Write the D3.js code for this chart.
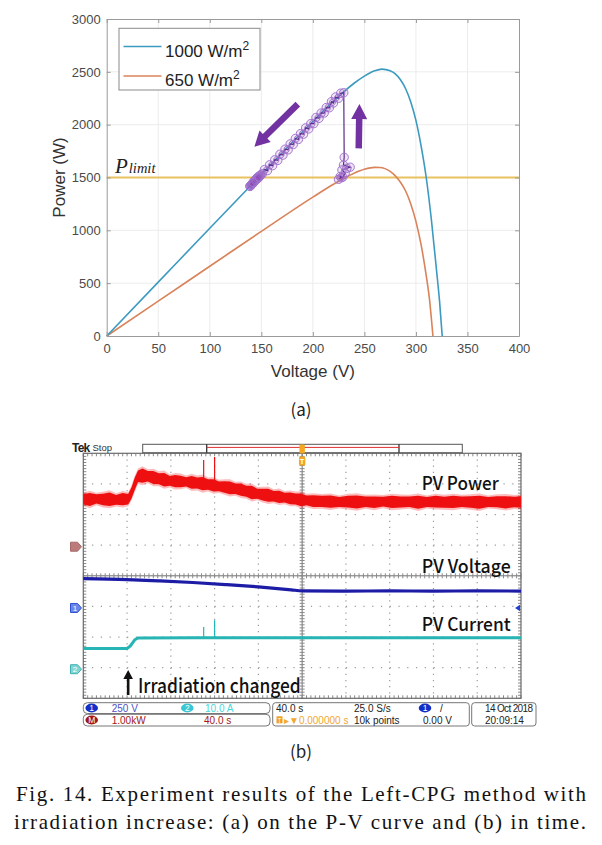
<!DOCTYPE html>
<html><head><meta charset="utf-8">
<script src="https://cdn.jsdelivr.net/npm/d3@7"></script>
<style>body{margin:0;background:#fff} svg{display:block}</style>
</head><body><svg id="c" width="602" height="845"></svg>
<script>
// ===== (a) P-V curves =====
const xTicks = [0,50,100,150,200,250,300,350,400];
const yTicks = [0,500,1000,1500,2000,2500,3000];
const pvVolt1000 = [0,50,100,150,200,220,240,250,260,267,275,280,285,290,295,300,305,310,315,320,323,325.5];
const pvPow1000  = [0,510,1020,1528,2030,2222,2392,2460,2510,2526,2510,2480,2425,2340,2215,2040,1800,1500,1100,620,320,0];
const pvVolt650  = [0,50,100,150,200,220,240,250,260,265,270,275,280,285,290,295,300,305,310,313,316.5];
const pvPow650   = [0,330,660,990,1314,1436,1541,1578,1596,1595,1584,1558,1515,1455,1372,1250,1085,864,571,360,0];
const pLimit = 1500;
const legendLabels = ["1000 W/m","650 W/m"];
const trajVolt = [224.9,227.5,226.5,229,231.4,228.2,233,236.2,229.7,230.4,230,227,225,222,220,218,216,213,211,208,206,203,201,198,196,193,191,188,186,183,181,178,176,173,171,168,166,163,161,158,156,153,151,149,147,150,145,148,143,146,141,144,140,147,142,145,139,143,146,141,144,148,142,146,140,144,149,143,147,141,145,139,146,142,148];
const trajPow  = [1483,1497,1510,1503,1540,1571,1587,1597,1618,1691,2302,2298,2250,2262,2205,2218,2160,2162,2110,2110,2060,2068,2010,2010,1960,1970,1910,1915,1860,1870,1812,1818,1762,1768,1712,1720,1662,1668,1612,1620,1565,1575,1535,1522,1493,1530,1477,1510,1455,1495,1440,1477,1425,1507,1453,1485,1415,1465,1500,1435,1473,1512,1448,1490,1428,1470,1518,1458,1498,1438,1480,1418,1492,1452,1506];
const arrowLeft = [[185.4,2195],[143.3,1791]];
const arrowUp   = [[244.5,1776],[245.2,2195]];

// ===== (b) oscilloscope =====
const timePerDiv = 40, voltPerDiv = 250, currPerDiv = 10, powPerDiv = 1.0;
const powerTime = [-200,-194,-188,-182,-176,-170,-164,-159,-156,-153,-150,-146,-141,-136,-131,-126,-121,-116,-111,-106,-101,-96,-91,-86,-81,-76,-71,-66,-61,-56,-51,-46,-41,-36,-31,-26,-21,-16,-11,-6,-1,4,10,18,26,34,42,50,58,66,74,82,90,98,106,114,122,130,138,146,154,162,170,178,186,194,200];
const powerMid  = [1.55,1.54,1.56,1.54,1.55,1.53,1.55,1.55,1.75,2.05,2.30,2.32,2.30,2.26,2.22,2.19,2.15,2.14,2.13,2.12,2.10,2.08,2.06,2.03,2.00,1.97,1.95,1.92,1.89,1.86,1.81,1.77,1.73,1.70,1.68,1.65,1.63,1.60,1.58,1.56,1.53,1.51,1.49,1.48,1.47,1.46,1.47,1.46,1.47,1.45,1.47,1.46,1.46,1.47,1.45,1.46,1.47,1.45,1.46,1.47,1.46,1.45,1.46,1.47,1.45,1.46,1.46];
const powerSpread = [0.17,0.21,0.15,0.19,0.22,0.16,0.20,0.17,0.18,0.20,0.19,0.23,0.17,0.21,0.18,0.22,0.16,0.20,0.19,0.15,0.21,0.18,0.22,0.17,0.20,0.16,0.19,0.21,0.17,0.20,0.18,0.22,0.16,0.19,0.21,0.17,0.20,0.16,0.19,0.18,0.21,0.16,0.19,0.18,0.20,0.16,0.19,0.21,0.17,0.19,0.16,0.20,0.18,0.17,0.21,0.16,0.19,0.18,0.20,0.17,0.19,0.21,0.16,0.18,0.20,0.17,0.19];
const voltTime = [-200,-160,-130,-100,-70,-40,-10,0,40,80,120,160,200];
const voltVal  = [240,232,221,208,191,172,148,139,138,139,138,139,138];
const currTime = [-200,-160,-157,-153,-150,-100,0,100,200];
const currVal  = [6.75,6.75,7.6,9.6,10.2,10.3,10.3,10.3,10.3];
const spikeTime = [-90,-80];
const spikePow  = [2.83,2.93];
const spikeCurr = [13.8,16.0];
const irradChangeTime = -159;
const chGround = {power:0.95, volt:-1.05, curr:-3.05}; // in divisions

const svg = d3.select("#c");
const SANS = "'Liberation Sans', Arial, sans-serif";

// ---------- (a) ----------
const X0=106.7, X1=519, Y0=336, Y1=19;
const x = d3.scaleLinear().domain([0,400]).range([X0,X1]);
const y = d3.scaleLinear().domain([0,3000]).range([Y0,Y1]);
const gA = svg.append("g");
gA.append("rect").attr("x",X0).attr("y",Y1).attr("width",X1-X0).attr("height",Y0-Y1).attr("fill","#fff");
gA.selectAll(".gx").data(xTicks.slice(1,-1)).join("line")
  .attr("x1",d=>x(d)).attr("x2",d=>x(d)).attr("y1",Y0).attr("y2",Y1).attr("stroke","#ececec");
gA.selectAll(".gy").data(yTicks.slice(1,-1)).join("line")
  .attr("y1",d=>y(d)).attr("y2",d=>y(d)).attr("x1",X0).attr("x2",X1).attr("stroke","#ececec");
gA.append("line").attr("x1",X0).attr("x2",X1).attr("y1",y(pLimit)).attr("y2",y(pLimit))
  .attr("stroke","#e8c25e").attr("stroke-width",1.8);

const line = d3.line().x(d=>x(d[0])).y(d=>y(d[1])).curve(d3.curveMonotoneX);
gA.append("path").datum(pvVolt650.map((v,i)=>[v,pvPow650[i]])).attr("d",line)
  .attr("fill","none").attr("stroke","#d9835a").attr("stroke-width",1.6);
gA.append("path").datum(pvVolt1000.map((v,i)=>[v,pvPow1000[i]])).attr("d",line)
  .attr("fill","none").attr("stroke","#3c9ac0").attr("stroke-width",1.6);

// trajectory
const traj = trajVolt.map((v,i)=>[v,trajPow[i]]);
gA.append("path").datum(traj).attr("d",d3.line().x(d=>x(d[0])).y(d=>y(d[1])))
  .attr("fill","none").attr("stroke","#5a2a84").attr("stroke-width",1.2);
gA.selectAll(".tp").data(traj).join("circle").attr("cx",d=>x(d[0])).attr("cy",d=>y(d[1]))
  .attr("r",4.2).attr("fill","rgba(120,50,170,0.12)").attr("stroke","#a477cf").attr("stroke-width",1);

function blockArrow(p0,p1,sw,hw,hl){
  const dx=p1[0]-p0[0], dy=p1[1]-p0[1], L=Math.hypot(dx,dy), ux=dx/L, uy=dy/L, nx=-uy, ny=ux;
  const b=[p1[0]-ux*hl, p1[1]-uy*hl];
  const P=[[p0[0]+nx*sw/2,p0[1]+ny*sw/2],[b[0]+nx*sw/2,b[1]+ny*sw/2],[b[0]+nx*hw/2,b[1]+ny*hw/2],p1,
           [b[0]-nx*hw/2,b[1]-ny*hw/2],[b[0]-nx*sw/2,b[1]-ny*sw/2],[p0[0]-nx*sw/2,p0[1]-ny*sw/2]];
  return "M"+P.map(p=>p.join(",")).join("L")+"Z";
}
[arrowLeft, arrowUp].forEach(a=>{
  const p0=[x(a[0][0]),y(a[0][1])], p1=[x(a[1][0]),y(a[1][1])];
  gA.append("path").attr("d",blockArrow(p0,p1,6.5,16,15)).attr("fill","#7232a2");
});

// axes
const axStyle = g=>{ g.selectAll(".domain").attr("stroke","#9a9a9a");
  g.selectAll(".tick line").attr("stroke","#9a9a9a");
  g.selectAll("text").attr("fill","#4a4a4a").attr("font-size",13).attr("font-family",SANS); };
const fmt = d3.format("d");
gA.append("g").attr("transform",`translate(0,${Y0})`)
  .call(d3.axisBottom(x).tickValues(xTicks).tickFormat(fmt).tickSize(-4).tickSizeOuter(0).tickPadding(8)).call(axStyle);
gA.append("g").attr("transform",`translate(0,${Y1})`)
  .call(d3.axisTop(x).tickValues(xTicks).tickSize(-4).tickSizeOuter(0).tickFormat("")).call(axStyle);
gA.append("g").attr("transform",`translate(${X0},0)`)
  .call(d3.axisLeft(y).tickValues(yTicks).tickFormat(fmt).tickSize(-4).tickSizeOuter(0).tickPadding(6)).call(axStyle);
gA.append("g").attr("transform",`translate(${X1},0)`)
  .call(d3.axisRight(y).tickValues(yTicks).tickSize(-4).tickSizeOuter(0).tickFormat("")).call(axStyle);

gA.append("text").attr("transform",`translate(65,${(Y0+Y1)/2}) rotate(-90)`).attr("text-anchor","middle")
  .attr("font-family",SANS).attr("font-size",17).attr("fill","#333").text("Power (W)");
gA.append("text").attr("x",(X0+X1)/2).attr("y",376.5).attr("text-anchor","middle")
  .attr("font-family",SANS).attr("font-size",17).attr("fill","#333").text("Voltage (V)");

// legend
const lg = gA.append("g");
lg.append("rect").attr("x",119).attr("y",28.3).attr("width",141).attr("height",61.7)
  .attr("fill","#fff").attr("stroke","#8a8a8a").attr("stroke-width",1);
const legColors = ["#3c9ac0","#d9835a"];
legendLabels.forEach((t,i)=>{
  const yy = 46.5 + i*29.5;
  lg.append("line").attr("x1",123.5).attr("x2",161.5).attr("y1",yy).attr("y2",yy)
    .attr("stroke",legColors[i]).attr("stroke-width",1.6);
  const tx = lg.append("text").attr("x",165).attr("y",yy+10).attr("font-family",SANS)
    .attr("font-size",17).attr("fill","#222");
  tx.append("tspan").text(t);
  tx.append("tspan").attr("dy",-7).attr("font-size",12).text("2");
});

// P_limit label
const pl = gA.append("text").attr("x",115).attr("y",y(pLimit)-5)
  .attr("font-family","'Liberation Serif','DejaVu Serif',serif").attr("font-style","italic").attr("fill","#222");
pl.append("tspan").attr("font-size",21).text("P");
pl.append("tspan").attr("font-size",14.5).attr("dx",1).text("limit");

svg.append("text").attr("x",301).attr("y",416).attr("text-anchor","middle")
  .attr("font-family","'Noto Sans CJK KR','Noto Sans',sans-serif").attr("font-size",17).attr("fill","#222").text("(a)");

// ---------- (b) oscilloscope ----------
const SX0=83.3, SX1=521, SY0=698.3, SY1=453.3;
const tx = d3.scaleLinear().domain([-5*timePerDiv,5*timePerDiv]).range([SX0,SX1]);
const dv = d3.scaleLinear().domain([-4,4]).range([SY0,SY1]);
const divW = (SX1-SX0)/10, divH = (SY0-SY1)/8;
const gB = svg.append("g");

d3.range(-4,5).filter(d=>d!==0).forEach(i=>{
  gB.append("line").attr("x1",tx(i*timePerDiv)).attr("x2",tx(i*timePerDiv)).attr("y1",SY1).attr("y2",SY0)
    .attr("stroke","#9c9c9c").attr("stroke-width",1.2).attr("stroke-dasharray",`1.2 ${divH/5-1.2}`);
});
d3.range(-3,4).filter(d=>d!==0).forEach(i=>{
  gB.append("line").attr("y1",dv(i)).attr("y2",dv(i)).attr("x1",SX0).attr("x2",SX1)
    .attr("stroke","#9c9c9c").attr("stroke-width",1.2).attr("stroke-dasharray",`1.2 ${divW/5-1.2}`);
});
gB.append("line").attr("x1",tx(0)).attr("x2",tx(0)).attr("y1",SY1).attr("y2",SY0).attr("stroke","#707070");
gB.append("line").attr("y1",dv(0)).attr("y2",dv(0)).attr("x1",SX0).attr("x2",SX1).attr("stroke","#707070");
d3.range(-50,51).forEach(k=>{
  const xx = SX0 + (k+50)*divW/10;
  gB.append("line").attr("x1",xx).attr("x2",xx).attr("y1",dv(0)-2.5).attr("y2",dv(0)+2.5).attr("stroke","#8a8a8a");
  gB.append("line").attr("x1",xx).attr("x2",xx).attr("y1",SY1).attr("y2",SY1+3).attr("stroke","#8a8a8a");
  gB.append("line").attr("x1",xx).attr("x2",xx).attr("y1",SY0).attr("y2",SY0-3).attr("stroke","#8a8a8a");
});
d3.range(-40,41).forEach(k=>{
  const yy = SY0 - (k+40)*divH/10;
  gB.append("line").attr("y1",yy).attr("y2",yy).attr("x1",tx(0)-2.5).attr("x2",tx(0)+2.5).attr("stroke","#8a8a8a");
  gB.append("line").attr("y1",yy).attr("y2",yy).attr("x1",SX0).attr("x2",SX0+3).attr("stroke","#8a8a8a");
  gB.append("line").attr("y1",yy).attr("y2",yy).attr("x1",SX1).attr("x2",SX1-3).attr("stroke","#8a8a8a");
});
gB.append("rect").attr("x",SX0).attr("y",SY1).attr("width",SX1-SX0).attr("height",SY0-SY1)
  .attr("fill","none").attr("stroke","#6a6a6a").attr("stroke-width",1.2);

const yPow  = v => dv(chGround.power + v/powPerDiv);
const yVolt = v => dv(chGround.volt + v/voltPerDiv);
const yCurr = v => dv(chGround.curr + v/currPerDiv);

// power band
const pw = powerTime.map((t,i)=>({t, m:powerMid[i], s:powerSpread[i]}));
gB.append("path").datum(pw).attr("d",d3.area().x(d=>tx(d.t)).y0(d=>yPow(d.m-d.s*1.35)).y1(d=>yPow(d.m+d.s*1.35)))
  .attr("fill","#f02020").attr("opacity",0.3);
gB.append("path").datum(pw).attr("d",d3.area().x(d=>tx(d.t)).y0(d=>yPow(d.m-d.s)).y1(d=>yPow(d.m+d.s)))
  .attr("fill","#ee1010");
spikeTime.forEach((t,i)=>{
  gB.append("line").attr("x1",tx(t)).attr("x2",tx(t)).attr("y1",yPow(powerMid[powerTime.findIndex(q=>q>=t)])).attr("y2",yPow(spikePow[i]))
    .attr("stroke","#ee1010").attr("stroke-width",1.2);
});
// voltage
gB.append("path").datum(voltTime.map((t,i)=>[t,voltVal[i]]))
  .attr("d",d3.line().x(d=>tx(d[0])).y(d=>yVolt(d[1])).curve(d3.curveMonotoneX))
  .attr("fill","none").attr("stroke","#1c1ca6").attr("stroke-width",3.2);
// current
gB.append("path").datum(currTime.map((t,i)=>[t,currVal[i]]))
  .attr("d",d3.line().x(d=>tx(d[0])).y(d=>yCurr(d[1])))
  .attr("fill","none").attr("stroke","#26b4b4").attr("stroke-width",3);
spikeTime.forEach((t,i)=>{
  gB.append("line").attr("x1",tx(t)).attr("x2",tx(t)).attr("y1",yCurr(10.3)).attr("y2",yCurr(spikeCurr[i]))
    .attr("stroke","#26b4b4").attr("stroke-width",1.2);
});

function chMarker(yy, fill, stroke, label, col){
  gB.append("path").attr("d",`M70.5,${yy-4.5}h7l4,4.5l-4,4.5h-7z`).attr("fill",fill).attr("stroke",stroke).attr("stroke-width",1);
  gB.append("text").attr("x",75).attr("y",yy+3.2).attr("text-anchor","middle").attr("font-family",SANS)
    .attr("font-size",8).attr("fill",col).text(label);
}
chMarker(dv(chGround.power), "#bb7b7b", "#a86a6a", "", "#fff");
chMarker(dv(chGround.volt), "#6a86e8", "#3050d0", "1", "#fff");
chMarker(dv(chGround.curr), "#7fd6d6", "#40b0b0", "2", "#fff");
gB.append("path").attr("d",`M${SX1-6},${yVolt(0)}l5,-3.2v6.4z`).attr("fill","#2040d0");

// top bar
gB.append("text").attr("x",72).attr("y",451.5).attr("font-family",SANS).attr("font-weight","bold")
  .attr("font-size",12).attr("fill","#222").attr("letter-spacing",-0.8).text("Tek");
gB.append("text").attr("x",92.5).attr("y",451).attr("font-family",SANS).attr("font-size",9.5).attr("fill","#333").text("Stop");
gB.append("rect").attr("x",142.7).attr("y",444.3).attr("width",319.6).attr("height",8.4)
  .attr("fill","#fff").attr("stroke","#555").attr("stroke-width",1);
gB.append("line").attr("x1",206.7).attr("x2",206.7).attr("y1",444.3).attr("y2",452.7).attr("stroke","#333").attr("stroke-width",1.3);
gB.append("line").attr("x1",399).attr("x2",399).attr("y1",444.3).attr("y2",452.7).attr("stroke","#333").attr("stroke-width",1.3);
gB.append("line").attr("x1",206.7).attr("x2",399).attr("y1",447.4).attr("y2",447.4).attr("stroke","#e03030").attr("stroke-width",1);
gB.append("rect").attr("x",tx(0)-2.7).attr("y",444.5).attr("width",5.4).attr("height",9).attr("rx",1).attr("fill","#f5a623");
gB.append("rect").attr("x",tx(0)-3.2).attr("y",456.5).attr("width",6.4).attr("height",9).attr("rx",1.5).attr("fill","#f5a623");
gB.append("text").attr("x",tx(0)).attr("y",463.8).attr("text-anchor","middle").attr("font-family",SANS)
  .attr("font-size",7.5).attr("font-weight","bold").attr("fill","#fff").text("T");

const LBL = "'Noto Sans CJK KR','Noto Sans',sans-serif";
[["PV Power",490,77],["PV Voltage",572.5,89],["PV Current",630.5,89]].forEach(d=>{
  gB.append("text").attr("x",421.7).attr("y",d[1]).attr("font-family",LBL).attr("font-weight",500)
    .attr("font-size",18).attr("fill","#111").attr("textLength",d[2]).attr("lengthAdjust","spacingAndGlyphs").text(d[0]);
});
const ax = tx(irradChangeTime);
gB.append("path").attr("d",`M${ax-1.3},695 V679 h-3.5 l4.8,-9 l4.8,9 h-3.5 V695 z`).attr("fill","#111");
gB.append("text").attr("x",138).attr("y",693.3).attr("font-family",LBL).attr("font-weight",500)
  .attr("font-size",20).attr("fill","#111").attr("textLength",162.7).attr("lengthAdjust","spacingAndGlyphs").text("Irradiation changed");

// bottom info bar
const bar = svg.append("g").attr("font-family",SANS).attr("font-size",10);
bar.append("rect").attr("x",83.3).attr("y",702.7).attr("width",186.7).attr("height",10.8).attr("rx",4).attr("fill","#fff").attr("stroke","#777");
bar.append("rect").attr("x",83.3).attr("y",714.3).attr("width",186.7).attr("height",11.7).attr("rx",4).attr("fill","#fff").attr("stroke","#777");
bar.append("rect").attr("x",272.7).attr("y",702.7).attr("width",196.6).attr("height",23.3).attr("rx",3).attr("fill","#fff").attr("stroke","#777");
bar.append("rect").attr("x",471.7).attr("y",702.7).attr("width",64.3).attr("height",23.3).attr("rx",3).attr("fill","#fff").attr("stroke","#777");
function badge(cx,cy,fill,label){
  bar.append("ellipse").attr("cx",cx).attr("cy",cy).attr("rx",6.3).attr("ry",4.4).attr("fill",fill);
  bar.append("text").attr("x",cx).attr("y",cy+3.2).attr("text-anchor","middle").attr("font-size",8.5).attr("fill","#fff").text(label);
}
badge(91.7,708,"#1230c8","1");
badge(187.3,708,"#38c8d4","2");
badge(91.7,720,"#a01818","M");
badge(425,708,"#1230c8","1");
const bt = (x0,y0,t,c)=>bar.append("text").attr("x",x0).attr("y",y0).attr("fill",c).text(t);
bt(111.7,711.5,"250 V","#5050c8");
bt(205,711.5,"10.0 A","#48d8dc");
bt(111.7,723.5,"1.00kW","#a01818");
bt(204,723.5,"40.0 s","#a01818");
bt(276,711.5,"40.0 s","#222");
bt(354,711.5,"25.0 S/s","#222");
bt(440,711.5,"/","#222");
bar.append("rect").attr("x",276.5).attr("y",716.3).attr("width",6).attr("height",7).attr("fill","#f0a020");
bar.append("text").attr("x",279.5).attr("y",722.5).attr("text-anchor","middle").attr("font-size",6.5).attr("fill","#fff").text("T");
bt(284,723.5,"\u25B8\u25BC0.000000 s","#f0a830");
bt(354,723.5,"10k points","#222");
bt(423,723.5,"0.00 V","#222");
bt(485,711.5,"14 Oct 2018","#222").attr("textLength",48).attr("lengthAdjust","spacing");
bt(485,723.5,"20:09:14","#222");

svg.append("text").attr("x",301).attr("y",758).attr("text-anchor","middle")
  .attr("font-family","'Noto Sans CJK KR','Noto Sans',sans-serif").attr("font-size",17).attr("fill","#222").text("(b)");

const SERIF = "'Liberation Serif','DejaVu Serif',serif";
svg.append("text").attr("x",16).attr("y",801).attr("font-family",SERIF).attr("font-size",21).attr("fill","#111")
  .attr("textLength",570).attr("lengthAdjust","spacing").text("Fig. 14. Experiment results of the Left\u2010CPG method with");
svg.append("text").attr("x",14).attr("y",829).attr("font-family",SERIF).attr("font-size",21).attr("fill","#111")
  .attr("textLength",572).attr("lengthAdjust","spacing").text("irradiation increase: (a) on the P\u2010V curve and (b) in time.");
</script></body></html>
